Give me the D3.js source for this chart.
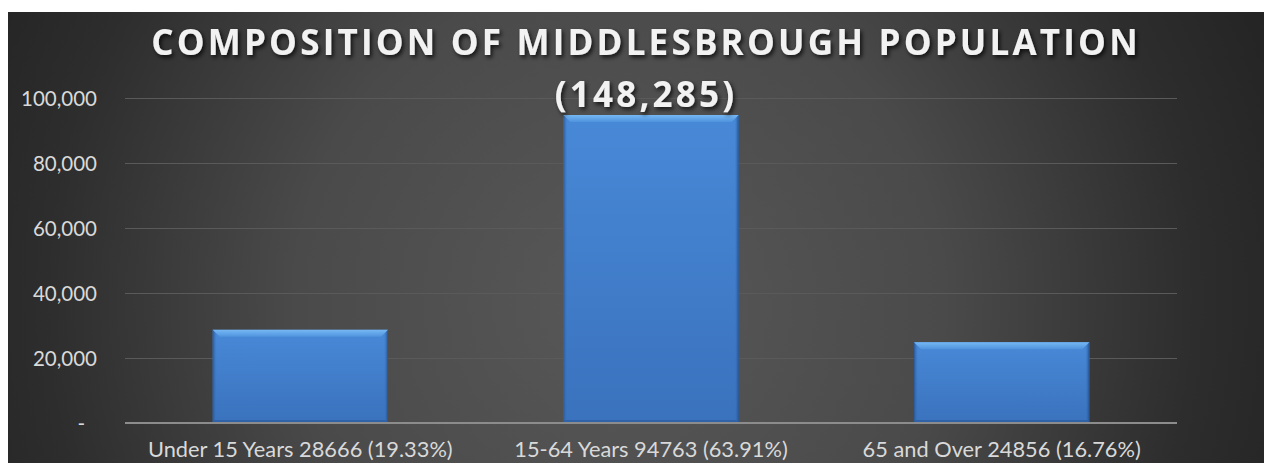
<!DOCTYPE html>
<html>
<head>
<meta charset="utf-8">
<script src="https://cdn.jsdelivr.net/npm/d3@7"></script>
<style>
  html, body { margin: 0; padding: 0; background: #ffffff; }
  svg { display: block; }
</style>
</head>
<body>
<svg id="chart" width="1264" height="463"></svg>
<script>
// Population by age band
const categories = ["Under 15 Years", "15-64 Years", "65 and Over"];
const populations = [28666, 94763, 24856];
const shares = ["19.33%", "63.91%", "16.76%"];
const yTicks = [0, 20000, 40000, 60000, 80000, 100000];
const titleLines = ["COMPOSITION OF MIDDLESBROUGH POPULATION", "(148,285)"];

const W = 1264, H = 463;
const frame = { x: 8, y: 12 };
const plot = { left: 125, right: 1177, top: 98, bottom: 423 };

const svg = d3.select("#chart");
const defs = svg.append("defs");

// Dark chart backdrop, lighter towards the middle
const bg = defs.append("radialGradient")
  .attr("id", "bgGrad").attr("gradientUnits", "userSpaceOnUse")
  .attr("cx", 620).attr("cy", 300).attr("r", 720);
bg.append("stop").attr("offset", 0).attr("stop-color", "#585858");
bg.append("stop").attr("offset", 0.45).attr("stop-color", "#4a4a4a");
bg.append("stop").attr("offset", 0.8).attr("stop-color", "#2d2d2d");
bg.append("stop").attr("offset", 1).attr("stop-color", "#232323");

// Bar body and bevel gradients
const body = defs.append("linearGradient").attr("id", "barBody")
  .attr("x1", 0).attr("y1", 0).attr("x2", 0).attr("y2", 1);
body.append("stop").attr("offset", 0).attr("stop-color", "#4889d7");
body.append("stop").attr("offset", 1).attr("stop-color", "#3a72bd");

const bevelTop = defs.append("linearGradient").attr("id", "bevelTop")
  .attr("x1", 0).attr("y1", 0).attr("x2", 0).attr("y2", 1);
bevelTop.append("stop").attr("offset", 0).attr("stop-color", "#76b8f4");
bevelTop.append("stop").attr("offset", 1).attr("stop-color", "#4f93dd");

const side = defs.append("linearGradient").attr("id", "bevelSide")
  .attr("x1", 0).attr("y1", 0).attr("x2", 1).attr("y2", 0);
side.append("stop").attr("offset", 0).attr("stop-color", "#2a5793");
side.append("stop").attr("offset", 1).attr("stop-color", "#3a75c2").attr("stop-opacity", 0);

const sideR = defs.append("linearGradient").attr("id", "bevelSideR")
  .attr("x1", 1).attr("y1", 0).attr("x2", 0).attr("y2", 0);
sideR.append("stop").attr("offset", 0).attr("stop-color", "#24508c");
sideR.append("stop").attr("offset", 1).attr("stop-color", "#3a75c2").attr("stop-opacity", 0);

const shadow = defs.append("filter").attr("id", "titleShadow")
  .attr("x", "-10%").attr("y", "-30%").attr("width", "120%").attr("height", "160%");
shadow.append("feDropShadow").attr("dx", 2).attr("dy", 2.5)
  .attr("stdDeviation", 2).attr("flood-color", "#000").attr("flood-opacity", 0.75);

svg.append("rect")
  .attr("x", frame.x).attr("y", frame.y)
  .attr("width", W - frame.x).attr("height", H - frame.y)
  .attr("fill", "url(#bgGrad)");

const x = d3.scaleBand().domain(categories)
  .range([plot.left, plot.right]).paddingInner(0.5).paddingOuter(0.25);
const y = d3.scaleLinear().domain([0, 100000]).range([plot.bottom, plot.top]);

// Gridlines
svg.append("g").selectAll("line")
  .data(yTicks.filter(d => d > 0)).join("line")
  .attr("x1", plot.left).attr("x2", plot.right)
  .attr("y1", d => Math.round(y(d)) + 0.5).attr("y2", d => Math.round(y(d)) + 0.5)
  .attr("stroke", "#5a5a5a").attr("stroke-width", 1);

// Y axis labels
const yAxis = svg.append("g")
  .attr("transform", `translate(97,0)`)
  .call(d3.axisLeft(y).tickValues(yTicks).tickSize(0).tickPadding(0)
    .tickFormat(d => d === 0 ? "-" : d3.format(",")(d)));
yAxis.select(".domain").remove();
yAxis.selectAll("text")
  .attr("fill", "#d9d9d9")
  .attr("font-family", "Lato, 'Open Sans', sans-serif")
  .attr("font-size", 20.5)
  .attr("dy", "0.36em");
yAxis.selectAll(".tick").filter(d => d === 0).select("text").attr("dx", -12);

// Bars with bevelled top edge
const bars = svg.append("g").selectAll("g")
  .data(categories.map((c, i) => ({ c, v: populations[i] }))).join("g");

bars.append("rect")
  .attr("x", d => x(d.c)).attr("y", d => y(d.v))
  .attr("width", x.bandwidth()).attr("height", d => y(0) - y(d.v))
  .attr("fill", "url(#barBody)");

bars.append("rect")
  .attr("x", d => x(d.c)).attr("y", d => y(d.v))
  .attr("width", 4).attr("height", d => y(0) - y(d.v))
  .attr("fill", "url(#bevelSide)");
bars.append("rect")
  .attr("x", d => x(d.c) + x.bandwidth() - 4).attr("y", d => y(d.v))
  .attr("width", 4).attr("height", d => y(0) - y(d.v))
  .attr("fill", "url(#bevelSideR)");

const bev = 7;
bars.append("path")
  .attr("d", d => {
    const x0 = x(d.c), x1 = x0 + x.bandwidth(), y0 = y(d.v);
    return `M${x0},${y0}L${x1},${y0}L${x1 - bev},${y0 + bev}L${x0 + bev},${y0 + bev}Z`;
  })
  .attr("fill", "url(#bevelTop)");

bars.append("line")
  .attr("x1", d => x(d.c) + 1).attr("x2", d => x(d.c) + x.bandwidth() - 1)
  .attr("y1", d => y(0) - 1.5).attr("y2", d => y(0) - 1.5)
  .attr("stroke", "#2f62a6").attr("stroke-width", 3);

// Baseline
svg.append("line")
  .attr("x1", plot.left).attr("x2", plot.right)
  .attr("y1", plot.bottom).attr("y2", plot.bottom)
  .attr("stroke", "#8c8c8c").attr("stroke-width", 2);

// Category labels
svg.append("g").selectAll("text")
  .data(categories.map((c, i) => `${c} ${populations[i]} (${shares[i]})`)).join("text")
  .attr("x", (d, i) => x(categories[i]) + x.bandwidth() / 2)
  .attr("y", 457)
  .attr("text-anchor", "middle")
  .attr("fill", "#d9d9d9")
  .attr("font-family", "Lato, 'Open Sans', sans-serif")
  .attr("font-size", 21.8)
  .text(d => d);

// Title
svg.append("g").attr("filter", "url(#titleShadow)")
  .selectAll("text").data(titleLines).join("text")
  .attr("x", 646)
  .attr("y", (d, i) => 55 + i * 52)
  .attr("text-anchor", "middle")
  .attr("fill", "#f2f2f2")
  .attr("font-family", "'Open Sans', sans-serif")
  .attr("font-weight", 700)
  .attr("font-size", 35)
  .attr("letter-spacing", 3.2)
  .text(d => d);
</script>
</body>
</html>
